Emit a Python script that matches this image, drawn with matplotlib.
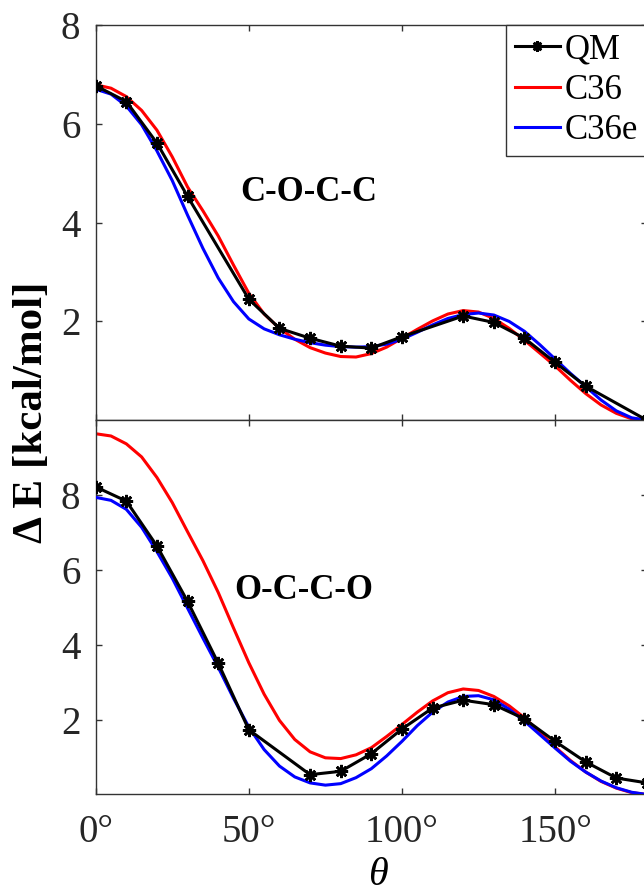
import matplotlib
matplotlib.use('Agg')
import matplotlib.pyplot as plt

# ---------------- data ----------------
angles = list(range(0, 181, 5))

# C-O-C-C (top panel)
coc_c36 = [6.79, 6.72, 6.55, 6.27, 5.87, 5.33, 4.72, 4.24, 3.73, 3.14,
           2.57, 2.15, 1.86, 1.64, 1.47, 1.36, 1.29, 1.28, 1.35, 1.48,
           1.66, 1.84, 2.01, 2.15, 2.22, 2.19, 2.06, 1.86, 1.62, 1.36,
           1.10, 0.81, 0.54, 0.31, 0.14, 0.03, 0.00]
coc_c36e = [6.70, 6.60, 6.36, 5.98, 5.45, 4.85, 4.15, 3.48, 2.88, 2.40,
            2.05, 1.85, 1.73, 1.64, 1.57, 1.52, 1.49, 1.48, 1.49, 1.54,
            1.64, 1.78, 1.93, 2.06, 2.14, 2.17, 2.13, 2.00, 1.80, 1.53,
            1.24, 0.95, 0.68, 0.41, 0.19, 0.05, 0.00]
coc_qm_angles = [0, 10, 20, 30, 50, 60, 70, 80, 90, 100, 120, 130, 140, 150, 160, 180]
coc_qm = [6.77, 6.45, 5.61, 4.53, 2.45, 1.86, 1.66, 1.50, 1.46, 1.69,
          2.11, 1.98, 1.66, 1.17, 0.69, 0.00]

# O-C-C-O (bottom panel)
occo_c36 = [9.64, 9.58, 9.37, 9.02, 8.47, 7.80, 7.02, 6.25, 5.40, 4.45,
            3.52, 2.68, 1.98, 1.47, 1.14, 0.98, 0.96, 1.06, 1.25, 1.55,
            1.87, 2.20, 2.50, 2.72, 2.82, 2.78, 2.62, 2.37, 2.05, 1.66,
            1.27, 0.91, 0.60, 0.35, 0.17, 0.05, 0.00]
occo_c36e = [7.94, 7.86, 7.62, 7.14, 6.49, 5.78, 4.98, 4.18, 3.40, 2.57,
             1.80, 1.20, 0.76, 0.47, 0.31, 0.25, 0.29, 0.45, 0.69, 1.03,
             1.42, 1.84, 2.20, 2.47, 2.62, 2.64, 2.53, 2.28, 1.96, 1.60,
             1.24, 0.89, 0.60, 0.36, 0.18, 0.06, 0.00]
occo_qm_angles = [0, 10, 20, 30, 40, 50, 70, 80, 90, 100, 110, 120, 130, 140, 150, 160, 170, 180]
occo_qm = [8.22, 7.84, 6.64, 5.16, 3.51, 1.73, 0.53, 0.62, 1.09, 1.75,
           2.31, 2.52, 2.40, 2.02, 1.42, 0.87, 0.44, 0.31]

xticks = [0, 50, 100, 150]
xticklabels = ['0°', '50°', '100°', '150°']
yticks = [2, 4, 6, 8]
series_labels = ['QM', 'C36', 'C36e']
panel_labels = ['C-O-C-C', 'O-C-C-O']

# ---------------- style ----------------
plt.rcParams['font.family'] = ['Liberation Serif', 'DejaVu Serif']
axis_col = '#333333'
red = '#ff0000'
blue = '#0000ff'

fig = plt.figure(figsize=(6.44, 8.94), dpi=100)
ax1 = fig.add_axes([0.1486, 0.5299, 0.856, 0.4422])
ax2 = fig.add_axes([0.1486, 0.1113, 0.856, 0.4186])


def draw(ax, c36, c36e, qa, qm):
    l2, = ax.plot(angles, c36, color=red, lw=2.2, zorder=2)
    l3, = ax.plot(angles, c36e, color=blue, lw=2.2, zorder=3)
    l1, = ax.plot(qa, qm, color='black', lw=2.2, marker=(8, 2, 0),
                  markersize=9.5, markeredgewidth=1.9, zorder=4)
    ax.set_xlim(0, 180)
    ax.set_xticks(xticks)
    ax.set_yticks(yticks)
    ax.tick_params(direction='in', top=True, right=True, length=4, width=1,
                   colors=axis_col, labelsize=28, labelcolor='#262626')
    ax.tick_params(axis='y', pad=11)
    ax.tick_params(axis='x', pad=14)
    for s in ax.spines.values():
        s.set_color(axis_col)
        s.set_linewidth(1.0)
    return l1, l2, l3


h = draw(ax1, coc_c36, coc_c36e, coc_qm_angles, coc_qm)
ax1.set_ylim(0, 8)
ax1.set_xticklabels([])
draw(ax2, occo_c36, occo_c36e, occo_qm_angles, occo_qm)
ax2.set_ylim(0, 10)
ax2.set_xticklabels(xticklabels)

ax1.text(69.6, 4.6, panel_labels[0], fontsize=25, fontweight='bold',
         ha='center', va='center')
ax2.text(68, 5.44, panel_labels[1], fontsize=25, fontweight='bold',
         ha='center', va='center')

leg = ax1.legend(h, series_labels, loc='upper right', bbox_to_anchor=(1, 1),
                 borderaxespad=0, fancybox=False, framealpha=1,
                 edgecolor=axis_col, fontsize=25, handlelength=1.3,
                 handletextpad=0.15, labelspacing=0.21, borderpad=0.25,
                 markerscale=0.8)
leg.get_frame().set_linewidth(1.0)

fig.text(32 / 644, 1 - 412 / 894, 'Δ E [kcal/mol]', rotation=90,
         fontsize=31, fontweight='bold', ha='center', va='center')
fig.text(378 / 644, 0.0, 'θ', style='italic', fontsize=29,
         ha='center', va='bottom')

fig.savefig('out.png', dpi=100)
